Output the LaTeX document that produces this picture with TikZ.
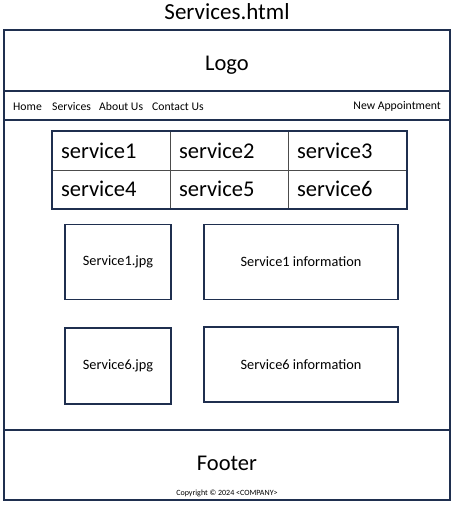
\documentclass[tikz,border=0pt]{standalone}
\usepackage{fontspec}
\setmainfont{Carlito}
\usepackage{tikz}
\usetikzlibrary{shapes,arrows}
\definecolor{frame}{HTML}{1F2F4F}
\tikzstyle{section} = [draw=frame, line width=1.4pt, rectangle, minimum width=446pt, inner sep=0pt]
\tikzstyle{box} = [draw=frame, line width=1.2pt, rectangle, inner sep=0pt, font=\fontsize{14.3}{16}\selectfont]
\tikzstyle{cell} = [draw=black!70, line width=1pt, rectangle, minimum width=118pt, minimum height=38pt, text width=100pt, align=left, inner sep=0pt, font=\fontsize{22.5}{25}\selectfont]
\tikzstyle{navlink} = [inner sep=0pt, font=\fontsize{11.7}{13}\selectfont]

\begin{document}
\begin{tikzpicture}
  [x=1pt,y=-1pt]
  \useasboundingbox (0,0) rectangle (455,505);
  \node (title) at (227,12) {\fontsize{23}{26}\selectfont Services.html};

  %page sections
  \node (header) [section, minimum height=61pt] at (227,60.5) {};
  \node (nav) [section, minimum height=29pt] at (227,105.5) {};
  \node (main) [section, minimum height=310pt] at (227,275) {};
  \node (footer) [section, minimum height=70pt] at (227,465) {};
  \node (logo) at (227,65) {\fontsize{22.5}{25}\selectfont Logo};

  %navigation
  \node (home) [navlink, anchor=west] at (13,106.5) {Home};
  \node (services) [navlink, anchor=west] at (52,106.5) {Services};
  \node (about) [navlink, anchor=west] at (99,106.5) {About Us};
  \node (contact) [navlink, anchor=west] at (152,106.5) {Contact Us};
  \node (appoint) [navlink, anchor=east] at (441,106.5) {New Appointment};

  %service table
  \node (s1) [cell] at (111,151) {service1};
  \node (s2) [cell] at (229,151) {service2};
  \node (s3) [cell] at (347,151) {service3};
  \node (s4) [cell] at (111,189) {service4};
  \node (s5) [cell] at (229,189) {service5};
  \node (s6) [cell] at (347,189) {service6};
  \draw[frame, line width=2pt] (s1.north west) rectangle (s6.south east);

  %service blocks
  \node (img1) [box, minimum width=106pt, minimum height=75pt] at (118,262) {Service1.jpg};
  \node (info1) [box, minimum width=194pt, minimum height=75pt] at (301,262) {Service1 information};
  \node (img6) [box, minimum width=106pt, minimum height=76pt] at (118,366) {Service6.jpg};
  \node (info6) [box, minimum width=194pt, minimum height=75pt] at (301,364.5) {Service6 information};

  %footer
  \node (foot) at (227,463.5) {\fontsize{22.5}{25}\selectfont Footer};
  \node (copy) [inner sep=0pt] at (227,493) {\fontsize{8}{9}\selectfont Copyright \textcopyright{} 2024 <COMPANY>};
\end{tikzpicture}
\end{document}
